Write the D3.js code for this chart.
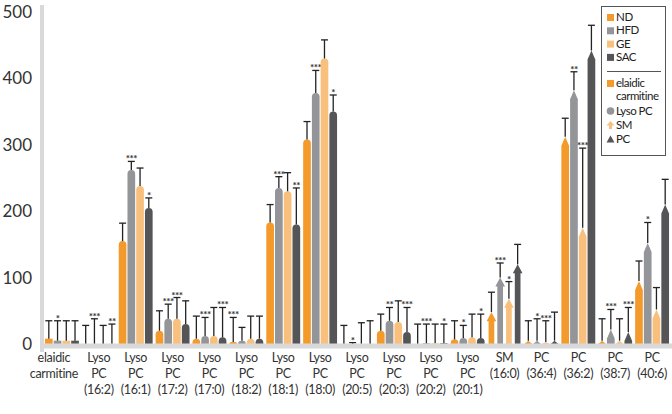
<!DOCTYPE html><html><head><meta charset="utf-8"><script src="https://cdn.jsdelivr.net/npm/d3@7"></script>
<style>body{margin:0;background:#fff}text{font-family:Lato,"Open Sans",sans-serif}</style></head><body><svg id="c" width="672" height="414"></svg>
<script>
const categories=[["elaidic","carmitine"],["Lyso","PC","(16:2)"],["Lyso","PC","(16:1)"],["Lyso","PC","(17:2)"],["Lyso","PC","(17:0)"],["Lyso","PC","(18:2)"],["Lyso","PC","(18:1)"],["Lyso","PC","(18:0)"],["Lyso","PC","(20:5)"],["Lyso","PC","(20:3)"],["Lyso","PC","(20:2)"],["Lyso","PC","(20:1)"],["SM","(16:0)"],["PC","(36:4)"],["PC","(36:2)"],["PC","(38:7)"],["PC","(40:6)"]];
const kinds=["carn","lyso","lyso","lyso","lyso","lyso","lyso","lyso","lyso","lyso","lyso","lyso","sm","pc","pc","pc","pc"];
const series=["ND","HFD","GE","SAC"];
const colors=["#f39a2b","#939598","#f8c07c","#555557"];
const ND=[8,0,155,20,8,3,183,308,0,20,0,7,48,5,312,5,95];
const HFD=[5,0,262,38,12,5,235,378,0,35,1,9,100,5,382,22,152];
const GE=[5,0,238,38,12,8,230,430,0,33,1,10,68,3,175,5,52];
const SAC=[5,0,205,30,10,8,180,350,0,18,1,9,120,5,442,18,210];
const ND_err=[35,28,182,50,42,40,210,335,28,45,30,35,78,35,340,38,125];
const HFD_err=[35,38,275,60,40,25,252,412,2,55,30,28,122,38,410,52,183];
const GE_err=[35,28,265,70,55,42,258,458,32,65,30,45,94,35,295,38,85];
const SAC_err=[35,30,220,65,55,42,235,375,35,55,30,45,150,48,480,55,248];
const ND_star=["","","","","","***","","","","","","","","","","",""];
const HFD_star=["*","***","***","***","***","","***","***","*","**","***","*","***","*","**","***","*"];
const GE_star=["","","","***","","","","","","","","","*","***","***","",""];
const SAC_star=["","**","*","","***","","**","*","","***","*","*","","","","***",""];
const yTicks=[0,100,200,300,400,500];
const vals=[ND,HFD,GE,SAC],errs=[ND_err,HFD_err,GE_err,SAC_err],stars=[ND_star,HFD_star,GE_star,SAC_star];

const svg=d3.select("#c");
const y=d3.scaleLinear().domain([0,500]).range([344,12]);
const x=d3.scaleBand().domain(d3.range(categories.length)).range([42,672]).paddingInner(0).paddingOuter(0.04);
const off=d3.scaleBand().domain(d3.range(4)).range([-18,18]).padding(0.12);
const bw=off.bandwidth();
function shape(k,x0,v){const y0=y(0),yt=y(v),w=bw,h=y0-yt;
 if(h<0.5)return "";
 if(k==="carn")return `M${x0},${y0}V${yt}H${x0+w}V${y0}Z`;
 if(k==="lyso"){const r=Math.min(w/2,h,4);return `M${x0},${y0}V${yt+r}Q${x0},${yt} ${x0+r},${yt}H${x0+w-r}Q${x0+w},${yt} ${x0+w},${yt+r}V${y0}Z`;}
 if(k==="pc"){const t=Math.min(9,h);return `M${x0},${y0}V${yt+t}L${x0+w/2},${yt}L${x0+w},${yt+t}V${y0}Z`;}
 const t=Math.min(9,h);return `M${x0+1},${y0}V${yt+t}H${x0-1}L${x0+w/2},${yt}L${x0+w+1},${yt+t}H${x0+w-1}V${y0}Z`;}
categories.forEach((c,i)=>{const cx=x(i)+x.bandwidth()/2;
 for(let s=0;s<4;s++){const x0=cx+off(s);const ex=x0+bw/2;
  svg.append("path").attr("d",shape(kinds[i],x0,vals[s][i])).attr("fill",colors[s]);
  svg.append("line").attr("x1",ex).attr("x2",ex).attr("y1",y(vals[s][i])).attr("y2",y(errs[s][i])).attr("stroke","#222").attr("stroke-width",1.3);
  svg.append("line").attr("x1",ex-3.5).attr("x2",ex+3.5).attr("y1",y(errs[s][i])).attr("y2",y(errs[s][i])).attr("stroke","#222").attr("stroke-width",1.3);
  if(stars[s][i])svg.append("text").attr("x",ex).attr("y",y(errs[s][i])+1).attr("text-anchor","middle").attr("font-size",10).attr("letter-spacing",-0.5).attr("fill","#333").attr("font-weight","bold").text(stars[s][i]);
 }
 const t=svg.append("text").attr("text-anchor","middle").attr("font-size",12.5).attr("letter-spacing",-0.3).attr("fill","#333");
 c.forEach((l,j)=>t.append("tspan").attr("x",i===0?cx-8:cx).attr("y",362+j*16).text(l));
});
svg.append("line").attr("x1",40).attr("x2",672).attr("y1",346).attr("y2",346).attr("stroke","#d9d9d9").attr("stroke-width",5);
svg.append("line").attr("x1",42).attr("x2",42).attr("y1",5).attr("y2",352).attr("stroke","#d9d9d9").attr("stroke-width",4);
yTicks.forEach(v=>svg.append("text").attr("x",32).attr("y",y(v)+6).attr("text-anchor","end").attr("font-size",17).attr("fill","#333").text(v));
const lg=svg.append("g");
lg.append("rect").attr("x",601.5).attr("y",6.5).attr("width",64).attr("height",149).attr("fill","#fff").attr("stroke","#555");
series.forEach((s,i)=>{lg.append("rect").attr("x",607).attr("y",14+i*13.3).attr("width",7).attr("height",7).attr("fill",colors[i]);
 lg.append("text").attr("x",616).attr("y",21+i*13.3).attr("font-size",11.5).attr("letter-spacing",-0.4).attr("fill","#222").text(s);});
lg.append("line").attr("x1",607).attr("x2",661).attr("y1",71.5).attr("y2",71.5).attr("stroke","#555");
const shapesL=[{t:["elaidic","carmitine"],y:87},{t:["Lyso PC"],y:115},{t:["SM"],y:129},{t:["PC"],y:143}];
lg.append("rect").attr("x",607).attr("y",80).attr("width",7).attr("height",7).attr("fill",colors[0]);
lg.append("circle").attr("cx",610.5).attr("cy",111).attr("r",3.8).attr("fill",colors[1]);
lg.append("path").attr("d","M610.5,121L614.5,125.5H612V129H609V125.5H606.5Z").attr("fill",colors[2]);
lg.append("path").attr("d","M610.5,135.5L614.5,142.5H606.5Z").attr("fill",colors[3]);
shapesL.forEach(d=>{const t=lg.append("text").attr("font-size",11.5).attr("letter-spacing",-0.5).attr("fill","#222");d.t.forEach((l,j)=>t.append("tspan").attr("x",616).attr("y",d.y+j*13).text(l));});
</script></body></html>
